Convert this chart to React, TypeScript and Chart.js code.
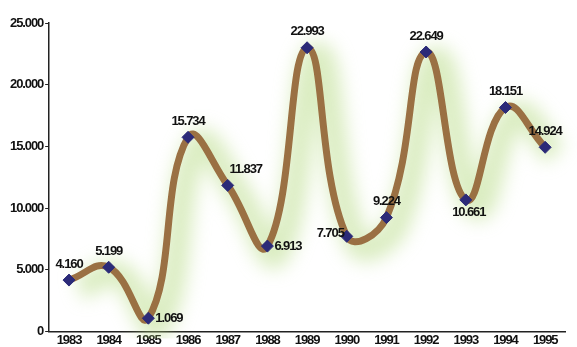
import React, { useEffect, useRef } from "react";
import { Chart, registerables } from "chart.js";
Chart.register(...registerables);

const years = ["1983","1984","1985","1986","1987","1988","1989","1990","1991","1992","1993","1994","1995"];
const values = [4160, 5199, 1069, 15734, 11837, 6913, 22993, 7705, 9224, 22649, 10661, 18151, 14924];
const yTicks = [0, 5000, 10000, 15000, 20000, 25000];

// label placement per point (style, not data)
const labelPos = ["top","top","right","top","topright","right","top","left","top","top","bottom","top","top"];

const FAMILY = "'Liberation Sans', Arial, sans-serif";
const SPACING = "-1.1px";
const fmt = (v: number) => (v === 0 ? "0" : String(v).replace(/\B(?=(\d{3})+(?!\d))/g, "."));

const spacingPlugin = {
  id: "spacing",
  beforeUpdate(chart: any) { chart.ctx.letterSpacing = SPACING; },
  beforeLayout(chart: any) { chart.ctx.letterSpacing = SPACING; },
  beforeDraw(chart: any) { chart.ctx.letterSpacing = SPACING; },
};

const glowPlugin = {
  id: "glow",
  beforeDatasetDraw(chart: any, args: any) {
    if (args.index === 0) {
      const ctx = chart.ctx;
      ctx.save();
      ctx.filter = "blur(9px)";
      ctx.translate(10, 7);
    }
  },
  afterDatasetDraw(chart: any, args: any) {
    if (args.index === 0) chart.ctx.restore();
  },
};

const labelPlugin = {
  id: "vlabels",
  afterDatasetsDraw(chart: any) {
    const ctx = chart.ctx;
    const meta = chart.getDatasetMeta(2);
    ctx.save();
    ctx.letterSpacing = SPACING;
    ctx.font = `bold 13px ${FAMILY}`;
    ctx.fillStyle = "#111";
    meta.data.forEach((pt: any, i: number) => {
      const t = fmt(values[i]);
      const p = labelPos[i];
      let x = pt.x, y = pt.y;
      ctx.textBaseline = "middle";
      ctx.textAlign = "center";
      if (p === "top") { y -= 16; }
      else if (p === "topright") { x += 18; y -= 16; }
      else if (p === "right") { x += 7; ctx.textAlign = "left"; }
      else if (p === "left") { x -= 3; y -= 3; ctx.textAlign = "right"; }
      else if (p === "bottom") { x += 3; y += 13; }
      ctx.fillText(t, x, y);
    });
    ctx.restore();
  },
};

export default function App() {
  const ref = useRef<HTMLCanvasElement>(null);
  useEffect(() => {
    document.body.style.margin = "0";
    const tickFont = { family: FAMILY, size: 13, weight: "bold" } as any;
    const chart = new Chart(ref.current!, {
      type: "line",
      data: {
        labels: years,
        datasets: [
          {
            data: values,
            borderColor: "rgba(175,215,120,0.45)",
            borderWidth: 26,
            tension: 0.45,
            pointRadius: 0,
            fill: false,
            order: 3,
          },
          {
            data: values,
            borderColor: "#9a7043",
            borderWidth: 7,
            tension: 0.45,
            pointRadius: 0,
            fill: false,
            order: 2,
          },
          {
            data: values,
            showLine: false,
            pointStyle: "rectRot",
            pointRadius: 6,
            pointBackgroundColor: "#2b2a78",
            pointBorderColor: "#2b2a78",
            pointBorderWidth: 1,
            order: 1,
          },
        ],
      },
      options: {
        animation: false,
        responsive: false,
        maintainAspectRatio: false,
        layout: { padding: { left: 8, right: 12, top: 23, bottom: -2 } },
        plugins: { legend: { display: false }, tooltip: { enabled: false } },
        scales: {
          x: {
            offset: true,
            grid: { display: false, drawTicks: false },
            border: { display: true, color: "#222", width: 1.5 },
            ticks: { color: "#111", font: tickFont, padding: 1, maxRotation: 0, autoSkip: false },
          },
          y: {
            min: 0,
            max: 25000,
            afterBuildTicks: (s: any) => { s.ticks = yTicks.map((v) => ({ value: v })); },
            grid: { drawOnChartArea: false, drawTicks: true, tickLength: 4, color: "#222" },
            border: { display: true, color: "#222", width: 1.5 },
            ticks: {
              color: "#111",
              font: tickFont,
              padding: 2,
              callback: (v: any) => fmt(Number(v)),
            },
          },
        },
      },
      plugins: [spacingPlugin, glowPlugin, labelPlugin],
    });
    return () => chart.destroy();
  }, []);
  return <canvas ref={ref} width={577} height={347} style={{ display: "block" }} />;
}
